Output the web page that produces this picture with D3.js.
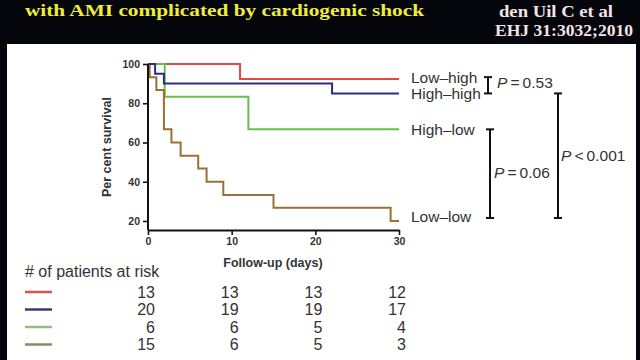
<!DOCTYPE html>
<html><head><meta charset="utf-8">
<script src="https://cdn.jsdelivr.net/npm/d3@7"></script>
<style>html,body{margin:0;padding:0;background:#05050c;}svg{display:block;}</style>
</head><body>
<svg id="c" width="640" height="360"></svg>
<script>
// ---- data ----
const seriesNames = ["Low\u2013high", "High\u2013high", "High\u2013low", "Low\u2013low"];
const seriesColors = ["#e8483e", "#2c2d80", "#68bf4c", "#9a7034"];
const riskColors = ["#d9534f", "#3b3c6e", "#8fbf80", "#8c8862"];
const lowHighDays = [0, 11, 30];
const lowHighSurv = [100, 92.3, 92.3];
const highHighDays = [0, 0.85, 1.9, 22, 30];
const highHighSurv = [100, 95, 90, 85, 85];
const highLowDays = [0, 2, 12, 30];
const highLowSurv = [100, 83.3, 66.7, 66.7];
const lowLowDays = [0, 0.2, 1, 1.9, 2.8, 3.9, 6, 7, 9, 15, 29, 30];
const lowLowSurv = [100, 93.3, 86.7, 66.7, 60, 53.3, 46.7, 40, 33.3, 26.7, 20, 20];
const xTicks = [0, 10, 20, 30];
const yTicks = [20, 40, 60, 80, 100];
const riskDays = [0, 10, 20, 30];
const riskLowHigh = [13, 13, 13, 12];
const riskHighHigh = [20, 19, 19, 17];
const riskHighLow = [6, 6, 5, 4];
const riskLowLow = [15, 6, 5, 3];
const pValues = ["0.53", "0.06", "0.001"];
const pOps = ["=", "=", "<"];

const svg = d3.select("#c");
const sans = "'Liberation Sans', Arial, sans-serif";
const serif = "'Liberation Serif', 'Times New Roman', serif";

// background + panel
svg.append("rect").attr("width", 640).attr("height", 360).attr("fill", "#05050c");
svg.append("rect").attr("x", 7).attr("y", 44).attr("width", 629).attr("height", 320).attr("fill", "#ffffff");

// header text
svg.append("text").attr("x", 25).attr("y", 16).attr("font-family", serif).attr("font-weight", "bold")
  .attr("font-size", 17).attr("fill", "#eeee3a").attr("textLength", 399).attr("lengthAdjust", "spacingAndGlyphs")
  .text("with AMI complicated by cardiogenic shock");
svg.append("text").attr("x", 499).attr("y", 17).attr("font-family", serif).attr("font-weight", "bold")
  .attr("font-size", 16).attr("fill", "#f2e4e6").attr("textLength", 114).attr("lengthAdjust", "spacingAndGlyphs")
  .text("den  Uil C et al");
svg.append("text").attr("x", 495).attr("y", 36).attr("font-family", serif).attr("font-weight", "bold")
  .attr("font-size", 16).attr("fill", "#f2e4e6").attr("textLength", 138).attr("lengthAdjust", "spacingAndGlyphs")
  .text("EHJ 31:3032;2010");

// scales
const x = d3.scaleLinear().domain([0, 30]).range([148, 399]);
const y = d3.scaleLinear().domain([15.4, 100]).range([230, 64]);

// curves
const curves = [
  {days: lowHighDays, surv: lowHighSurv, i: 0},
  {days: highLowDays, surv: highLowSurv, i: 2},
  {days: lowLowDays, surv: lowLowSurv, i: 3},
  {days: highHighDays, surv: highHighSurv, i: 1}
];
const line = d3.line().x(d => x(d[0])).y(d => y(d[1])).curve(d3.curveStepAfter);
curves.forEach(c => {
  const pts = c.days.map((d, k) => [d, c.surv[k]]);
  svg.append("path").attr("d", line(pts)).attr("fill", "none")
    .attr("stroke", seriesColors[c.i]).attr("stroke-width", 2);
});

// axes
const yAxis = svg.append("g").attr("transform", "translate(148,0)")
  .call(d3.axisLeft(y).tickValues(yTicks).tickSize(5).tickSizeOuter(0).tickPadding(3));
const xAxis = svg.append("g").attr("transform", "translate(0,230)")
  .call(d3.axisBottom(x).tickValues(xTicks).tickSize(5).tickSizeOuter(0).tickPadding(3));
[xAxis, yAxis].forEach(a => {
  a.select(".domain").attr("stroke", "#111").attr("stroke-width", 2);
  a.selectAll(".tick line").attr("stroke", "#111").attr("stroke-width", 1.6);
  a.selectAll(".tick text").attr("font-family", sans).attr("font-weight", "bold")
    .attr("font-size", 10.5).attr("fill", "#333");
});
// extend y domain line to x axis
yAxis.select(".domain").attr("d", `M0,${y(100)}V230`);

// axis titles
svg.append("text").attr("transform", "translate(111,147) rotate(-90)").attr("text-anchor", "middle")
  .attr("font-family", sans).attr("font-weight", "bold").attr("font-size", 12.5).attr("fill", "#333")
  .text("Per cent survival");
svg.append("text").attr("x", 273).attr("y", 267).attr("text-anchor", "middle")
  .attr("font-family", sans).attr("font-weight", "bold").attr("font-size", 12.5).attr("fill", "#333")
  .text("Follow-up (days)");

// series labels at curve ends (offset for overlap)
const labelY = [y(lowHighSurv[lowHighSurv.length - 1]) - 2, y(highHighSurv[highHighSurv.length - 1]) + 0,
  y(highLowSurv[highLowSurv.length - 1]), y(lowLowSurv[lowLowSurv.length - 1]) - 4];
seriesNames.forEach((n, i) => {
  svg.append("text").attr("x", 411).attr("y", labelY[i]).attr("dy", "0.35em")
    .attr("font-family", sans).attr("font-size", 15.5).attr("fill", "#333").text(n);
});

// significance brackets
function bracket(bx, y1, y2, tx, ty, op, val) {
  const g = svg.append("g").attr("stroke", "#111").attr("stroke-width", 2);
  g.append("line").attr("x1", bx).attr("x2", bx).attr("y1", y1).attr("y2", y2);
  g.append("line").attr("x1", bx - 4).attr("x2", bx + 4).attr("y1", y1).attr("y2", y1);
  g.append("line").attr("x1", bx - 4).attr("x2", bx + 4).attr("y1", y2).attr("y2", y2);
  const t = svg.append("text").attr("x", tx).attr("y", ty).attr("dy", "0.35em")
    .attr("font-family", sans).attr("font-size", 15.5).attr("fill", "#333");
  t.append("tspan").attr("font-style", "italic").text("P");
  t.append("tspan").text("\u2009" + op + "\u2009" + val);
}
bracket(488, labelY[0], labelY[1], 497, 83, pOps[0], pValues[0]);
bracket(490, labelY[2], labelY[3] + 1, 494, 173, pOps[1], pValues[1]);
bracket(558, labelY[1], labelY[3] + 1, 561, 156, pOps[2], pValues[2]);

// risk table
svg.append("text").attr("x", 25).attr("y", 271).attr("dy", "0.35em")
  .attr("font-family", sans).attr("font-size", 16).attr("fill", "#333").text("# of patients at risk");
const riskRows = [riskLowHigh, riskHighHigh, riskHighLow, riskLowLow];
riskRows.forEach((row, r) => {
  const ry = 292 + r * 17.5;
  svg.append("line").attr("x1", 25).attr("x2", 52).attr("y1", ry).attr("y2", ry)
    .attr("stroke", riskColors[r]).attr("stroke-width", 2.5);
  row.forEach((v, k) => {
    svg.append("text").attr("x", x(riskDays[k]) + 7).attr("y", ry).attr("dy", "0.35em")
      .attr("text-anchor", "end").attr("font-family", sans).attr("font-size", 16).attr("fill", "#333").text(v);
  });
});
</script>
</body></html>
